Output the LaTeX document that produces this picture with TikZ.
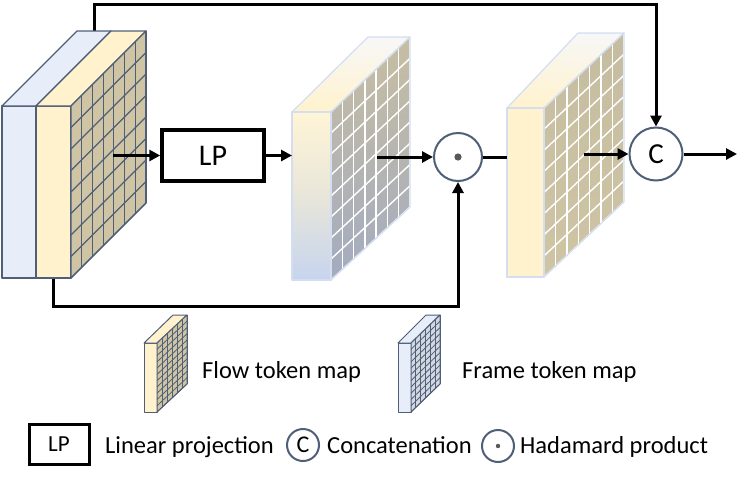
\documentclass[tikz,border=0pt]{standalone}
\usepackage{fontspec}
\setmainfont{Carlito}
\usetikzlibrary{calc,arrows.meta}
\definecolor{fblue}{HTML}{E8EEF9}
\definecolor{fyel}{HTML}{FFF2CC}
\definecolor{ftan}{HTML}{CFC5A5}
\definecolor{edgec}{HTML}{4F5F78}
\definecolor{lightedge}{HTML}{D3DEF2}
\definecolor{gblue}{HTML}{C6D4EE}
\definecolor{ggrey}{HTML}{A3ABC0}
\definecolor{dotc}{HTML}{595959}
\newcommand\gridlines[7]{%
  \foreach \i in {1,...,#5}{\draw[#7] ($(#1)!\i/#5!(#2)$) -- ($(#4)!\i/#5!(#3)$);}%
  \foreach \j in {1,...,#6}{\draw[#7] ($(#1)!\j/#6!(#4)$) -- ($(#2)!\j/#6!(#3)$);}}
\tikzset{
  conn/.style={line width=3pt, line join=miter},
  arr/.style={conn, -{Triangle[length=11pt,width=11pt]}},
  lpbox/.style={draw, line width=3.5pt, minimum width=102pt, minimum height=51pt, inner sep=0pt, font=\fontsize{30}{32}\selectfont},
  lpsmall/.style={draw, line width=3pt, minimum width=60pt, minimum height=40pt, inner sep=0pt, font=\fontsize{23}{26}\selectfont},
  opcircle/.style={circle, draw=edgec, line width=2pt, fill=white, inner sep=0pt, minimum size=#1},
  dark/.style={draw=edgec, line width=1.3pt, line join=round},
  darkgrid/.style={draw=edgec, line width=1.2pt},
  thingrid/.style={draw=edgec, line width=0.8pt},
  light/.style={draw=lightedge, line width=1.2pt, line join=round},
  whitegrid/.style={draw=white, line width=1.4pt},
  lbl/.style={anchor=base west, inner sep=0pt, font=\fontsize{24.5}{29}\selectfont},
}
\begin{document}
\begin{tikzpicture}[x=1pt,y=-1pt]
\useasboundingbox (0,0) rectangle (747,477);

% ---------- loops (behind blocks)
\node[opcircle=48pt] (had) at (458,157) {};
\fill[dotc] (had.center) circle (3.6pt);
\node[opcircle=53pt, font=\fontsize{29}{30}\selectfont] (cat) at (656,154) {\raisebox{-1pt}{C}};
\coordinate (s1) at (94,31);
\coordinate (s2) at (53,278);
\draw[arr] (s1) -- ++(0,-27) -| (cat.north);
\draw[arr] (s2) -- ++(0,28) -| (had.south);

% ---------- block 1 (frame + flow)
\filldraw[dark, fill=fblue] (2,106) rectangle (36,278);
\filldraw[dark, fill=fblue] (2,106) -- (77,31) -- (111,31) -- (36,106) -- cycle;
\filldraw[dark, fill=fyel] (36,106) rectangle (71,278);
\filldraw[dark, fill=fyel] (36,106) -- (111,31) -- (146,31) -- (71,106) -- cycle;
\coordinate (a1) at (71,106); \coordinate (b1) at (146,31);
\coordinate (c1) at (146,203); \coordinate (d1) at (71,278);
\fill[ftan] (a1) -- (b1) -- (c1) -- (d1) -- cycle;
\gridlines{a1}{b1}{c1}{d1}{7}{8}{darkgrid}
\draw[dark] (a1) -- (b1) -- (c1) -- (d1) -- cycle;

% ---------- block 2 (gradient)
\shade[top color=fyel!80!white, bottom color=gblue, middle color=fyel!60!gblue] (292,112) rectangle (331,280);
\shade[top color=white!94!gray, bottom color=fyel] (292,112) -- (368,37) -- (410,37) -- (331,112) -- cycle;
\coordinate (a2) at (331,112); \coordinate (b2) at (410,37);
\coordinate (c2) at (410,207); \coordinate (d2) at (331,280);
\shade[top color=ftan!90!gray, middle color=ftan, bottom color=ggrey] (a2) -- (b2) -- (c2) -- (d2) -- cycle;
\gridlines{a2}{b2}{c2}{d2}{7}{8}{whitegrid}
\draw[light] (292,112) rectangle (331,280);
\draw[light] (292,112) -- (368,37) -- (410,37) -- (331,112);
\draw[light] (a2) -- (b2) -- (c2) -- (d2) -- cycle;

% ---------- block 3 (flow, light)
\fill[fyel] (507,108) rectangle (544,277);
\shade[top color=white!94!gray, bottom color=fyel] (507,108) -- (578,33) -- (624,33) -- (544,108) -- cycle;
\coordinate (a3) at (544,108); \coordinate (b3) at (624,33);
\coordinate (c3) at (624,202); \coordinate (d3) at (544,277);
\shade[top color=ftan!88!gray, bottom color=ftan] (a3) -- (b3) -- (c3) -- (d3) -- cycle;
\gridlines{a3}{b3}{c3}{d3}{7}{8}{whitegrid}
\draw[light] (507,108) rectangle (544,277);
\draw[light] (507,108) -- (578,33) -- (624,33) -- (544,108);
\draw[light] (a3) -- (b3) -- (c3) -- (d3) -- cycle;

% ---------- main flow
\node[lpbox] (lp) at (213,155.5) {LP};
\coordinate (g1) at (113,155.5);
\coordinate (f2) at (292,155.5);
\coordinate (g2) at (377,157);
\coordinate (f3) at (507,157);
\coordinate (g3) at (584,154);
\coordinate (out) at (737,154);
\draw[arr] (g1) -- (lp.west);
\draw[arr] (lp.east) -- (f2);
\draw[arr] (g2) -- (had.west);
\draw[conn] (had.east) -- (f3);
\draw[arr] (g3) -- (cat.west);
\draw[arr] (cat.east) -- (out);

% ---------- legend: flow icon
\filldraw[dark, line width=1pt, fill=fyel] (144,343) rectangle (157,412);
\filldraw[dark, line width=1pt, fill=fyel] (144,343) -- (173,315) -- (187,315) -- (157,343) -- cycle;
\coordinate (a4) at (157,343); \coordinate (b4) at (187,315);
\coordinate (c4) at (187,384); \coordinate (d4) at (157,412);
\fill[ftan] (a4) -- (b4) -- (c4) -- (d4) -- cycle;
\gridlines{a4}{b4}{c4}{d4}{6}{11}{thingrid}
\draw[dark, line width=1pt] (a4) -- (b4) -- (c4) -- (d4) -- cycle;
\node[lbl] (tflow) at (202,378) {Flow token map};

% ---------- legend: frame icon
\filldraw[dark, line width=1pt, fill=fblue] (398,343) rectangle (411,412);
\filldraw[dark, line width=1pt, fill=fblue] (398,343) -- (426,315) -- (440,315) -- (411,343) -- cycle;
\coordinate (a5) at (411,343); \coordinate (b5) at (440,315);
\coordinate (c5) at (440,384); \coordinate (d5) at (411,412);
\fill[fblue!80!gray] (a5) -- (b5) -- (c5) -- (d5) -- cycle;
\gridlines{a5}{b5}{c5}{d5}{6}{11}{thingrid}
\draw[dark, line width=1pt] (a5) -- (b5) -- (c5) -- (d5) -- cycle;
\node[lbl] (tframe) at (462,378) {Frame token map};

% ---------- legend: bottom row
\node[lpsmall] (lpl) at (59,444) {LP};
\node[lbl] (tlp) at (105,453) {Linear projection};
\node[opcircle=32pt, font=\fontsize{24}{26}\selectfont] (catl) at (303,445) {\raisebox{-1pt}{C}};
\node[lbl] (tcat) at (327,453) {Concatenation};
\node[opcircle=32pt] (hadl) at (498,446) {};
\fill[dotc] (hadl.center) circle (2.2pt);
\node[lbl] (thad) at (520,453) {Hadamard product};
\end{tikzpicture}
\end{document}
